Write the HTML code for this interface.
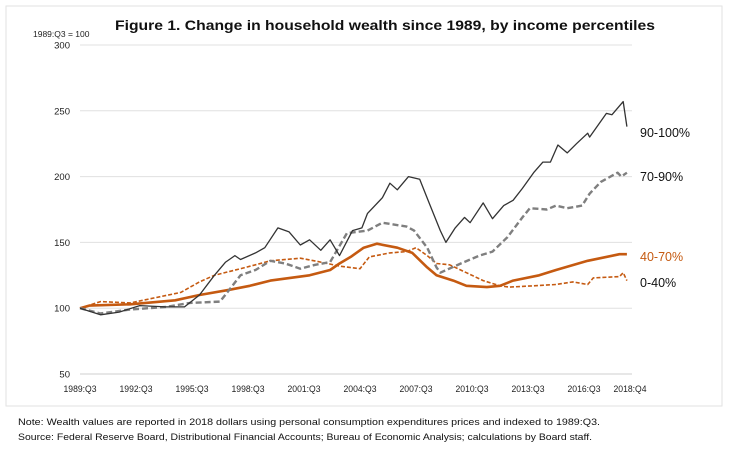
<!DOCTYPE html>
<html><head><meta charset="utf-8"><style>
html,body{margin:0;padding:0;background:#fff;}
svg{display:block;font-family:"Liberation Sans",sans-serif;}
</style></head><body>
<svg id="chart" width="729" height="454" viewBox="0 0 729 454">
<rect x="6" y="6" width="716" height="400" fill="none" stroke="#e2e2e2"/>
<text x="385" y="30" text-anchor="middle" font-size="14" font-weight="bold" fill="#111" textLength="540" lengthAdjust="spacingAndGlyphs">Figure 1.  Change in household wealth since 1989, by income percentiles</text>
<text x="33" y="37" font-size="8.5" fill="#222">1989:Q3 = 100</text>
<g id="grid"></g><g id="yt"></g><g id="xt"></g><g id="series"></g>
<text x="640" y="137" font-size="12.5" fill="#111">90-100%</text>
<text x="640" y="181" font-size="12.5" fill="#111">70-90%</text>
<text x="640" y="261" font-size="12.5" fill="#c55a11">40-70%</text>
<text x="640" y="287" font-size="12.5" fill="#111">0-40%</text>
<text x="18" y="425" font-size="9.5" fill="#111" textLength="582" lengthAdjust="spacingAndGlyphs">Note:  Wealth values are reported in 2018 dollars using personal consumption expenditures prices and indexed to 1989:Q3.</text>
<text x="18" y="440" font-size="9.5" fill="#111" textLength="574" lengthAdjust="spacingAndGlyphs">Source:  Federal Reserve Board, Distributional Financial Accounts; Bureau of Economic Analysis; calculations by Board staff.</text>
</svg>
<script>
const yTicks=[50,100,150,200,250,300];
const xTickLabels=["1989:Q3","1992:Q3","1995:Q3","1998:Q3","2001:Q3","2004:Q3","2007:Q3","2010:Q3","2013:Q3","2016:Q3","2018:Q4"];
const xTickYears=[1989.5,1992.5,1995.5,1998.5,2001.5,2004.5,2007.5,2010.5,2013.5,2016.5,2018.75];
const t90=[1989.5,1990.6,1991.6,1992.7,1994.1,1995.1,1995.9,1996.7,1997.3,1997.8,1998.1,1998.9,1999.4,2000.1,2000.7,2001.3,2001.8,2002.4,2002.9,2003.4,2004.1,2004.6,2004.9,2005.7,2006.1,2006.5,2007.1,2007.7,2008.2,2008.8,2009.1,2009.6,2010.1,2010.4,2011.1,2011.6,2012.2,2012.7,2013.2,2013.8,2014.3,2014.7,2015.1,2015.6,2016.1,2016.7,2016.8,2017.7,2018.0,2018.6,2018.8];
const v90=[100,95,97,102,101,101,110,125,135,140,137,142,146,161,158,148,152,144,152,140,159,161,172,184,195,190,200,198,180,159,150,161,169,165,180,168,178,182,191,203,211,211,224,218,225,233,230,248,247,257,238];
const t70=[1989.5,1990.6,1992.2,1994.1,1995.4,1997.0,1997.5,1998.1,1998.9,1999.7,2000.5,2001.3,2002.1,2002.9,2003.8,2004.9,2005.7,2007.0,2007.4,2008.1,2008.6,2008.8,2009.9,2010.9,2011.6,2012.4,2013.2,2013.6,2014.5,2015.0,2015.6,2016.4,2016.8,2017.4,2018.3,2018.5,2018.8];
const v70=[100,96,99,101,104,105,114,125,129,136,134,130,133,135,157,159,165,162,159,146,131,127,134,140,143,154,169,176,175,178,176,178,187,196,203,200,203];
const t40=[1989.5,1990.0,1992.2,1994.6,1995.9,1997.5,1998.6,1999.7,2001.3,2001.8,2002.9,2003.4,2004.0,2004.7,2005.4,2006.5,2007.3,2008.1,2008.6,2009.5,2010.2,2011.3,2012.0,2012.7,2014.1,2015.0,2016.7,2018.4,2018.8];
const v40=[100,102,103,106,110,114,117,121,124,125,129,134,139,146,149,146,142,131,125,121,117,116,117,121,125,129,136,141,141];
const t0=[1989.5,1990.6,1992.2,1993.2,1994.9,1995.9,1996.7,1998.1,1998.9,1999.7,2001.3,2002.4,2003.4,2004.5,2005.0,2006.1,2007.0,2007.5,2008.1,2008.6,2009.3,2010.2,2011.1,2012.0,2012.5,2013.8,2015.0,2015.9,2016.7,2017.0,2018.4,2018.6,2018.8];
const v0=[100,105,104,107,112,120,125,130,133,136,138,135,132,130,139,142,143,146,140,134,133,127,121,117,116,117,118,120,118,123,124,127,121];
const X0=80,X1=626,Y0=374,Y1=45;
const xs=y=>X0+(y-1989.5)/(2018.75-1989.5)*(X1-X0);
const ys=v=>Y0-(v-50)/(300-50)*(Y0-Y1);
const NS="http://www.w3.org/2000/svg";
function mk(tag,attrs,parent){const e=document.createElementNS(NS,tag);for(const k in attrs)e.setAttribute(k,attrs[k]);document.getElementById(parent).appendChild(e);return e;}
yTicks.forEach(v=>{
  const l=mk("line",{x1:80,x2:632,y1:ys(v),y2:ys(v),stroke:v===50?"#cfcfcf":"#e0e0e0","stroke-width":1},"grid");
  
  
  const t=mk("text",{x:70,y:ys(v)+3.5,"text-anchor":"end","font-size":"9.5",fill:"#222"},"yt");
  t.textContent=v;
  
  
});
xTickLabels.forEach((s,i)=>{
  const t=mk("text",{x:xs(xTickYears[i])+(i===10?4:0),y:392,"text-anchor":"middle","font-size":"9",fill:"#222",textLength:"33",lengthAdjust:"spacingAndGlyphs"},"xt");
  t.textContent=s;
  
  
});
function line(ts,vs,style,name){
  const d=ts.map((t,i)=>(i?"L":"M")+xs(t).toFixed(1)+","+ys(vs[i]).toFixed(1)).join("");
  const p=mk("path",Object.assign({d:d,fill:"none","stroke-linejoin":"round"},style),"series");
  
  
}
line(t0,v0,{stroke:"#c55a11","stroke-width":1.6,"stroke-dasharray":"4,2"},"line-0-40");
line(t40,v40,{stroke:"#c55a11","stroke-width":2.6},"line-40-70");
line(t70,v70,{stroke:"#7f7f7f","stroke-width":2.4,"stroke-dasharray":"6,3"},"line-70-90");
line(t90,v90,{stroke:"#333","stroke-width":1.3},"line-90-100");
</script>
</body></html>
